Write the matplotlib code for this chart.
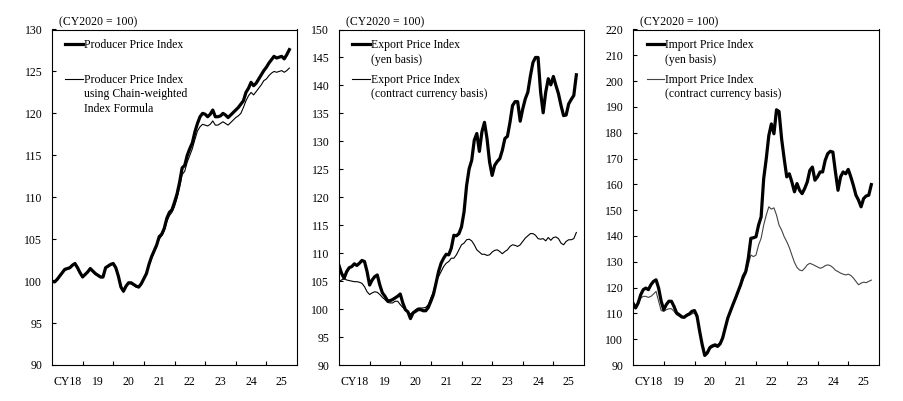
import matplotlib
matplotlib.use('Agg')
import matplotlib.pyplot as plt
import numpy as np

plt.rcParams['font.family'] = ['Liberation Serif', 'DejaVu Serif']
plt.rcParams['font.size'] = 8.5

# monthly, Jan 2018 .. Oct 2025 (CY2020 = 100)
ppi = [100.0, 99.9, 100.2, 100.6, 101.0, 101.4, 101.5, 101.6, 101.9, 102.1, 101.6, 101.0,
       100.5, 100.8, 101.1, 101.5, 101.2, 100.9, 100.7, 100.5, 100.5, 101.6, 101.8, 102.0,
       102.1, 101.6, 100.6, 99.3, 98.8, 99.4, 99.8, 99.8, 99.6, 99.4, 99.3, 99.7,
       100.3, 100.9, 102.0, 102.9, 103.6, 104.3, 105.3, 105.6, 106.3, 107.5, 108.2, 108.5,
       109.4, 110.4, 111.8, 113.5, 113.8, 115.0, 115.8, 116.5, 117.8, 118.8, 119.6, 120.0,
       119.9, 119.6, 119.9, 120.4, 119.6, 119.6, 119.7, 120.0, 119.8, 119.5, 119.8, 120.1,
       120.4, 120.7, 121.1, 121.5, 122.5, 123.0, 123.7, 123.3, 123.6, 124.1, 124.6, 125.1,
       125.5, 126.0, 126.4, 126.8, 126.6, 126.7, 126.8, 126.5, 127.0, 127.6]
ppi_chain = [99.9, 99.9, 100.1, 100.5, 100.9, 101.3, 101.4, 101.5, 101.8, 102.0, 101.5, 100.9,
             100.4, 100.7, 101.0, 101.4, 101.1, 100.8, 100.6, 100.4, 100.4, 101.5, 101.7, 101.9,
             102.0, 101.5, 100.5, 99.2, 98.7, 99.3, 99.7, 99.7, 99.5, 99.3, 99.2, 99.6,
             100.2, 100.8, 101.8, 102.7, 103.4, 104.1, 105.0, 105.4, 106.0, 107.1, 107.8, 108.2,
             108.9, 109.9, 111.2, 112.7, 113.1, 114.2, 115.0, 115.8, 116.9, 117.9, 118.4, 118.7,
             118.6, 118.5, 118.7, 119.1, 118.6, 118.6, 118.8, 119.0, 118.8, 118.6, 118.9, 119.2,
             119.5, 119.7, 120.0, 120.7, 121.5, 122.1, 122.5, 122.2, 122.6, 123.0, 123.4, 123.9,
             124.1, 124.5, 124.8, 125.0, 124.9, 125.0, 125.1, 124.9, 125.1, 125.4]

export_yen = [107.8, 106.4, 105.5, 106.7, 107.4, 107.6, 108.1, 107.8, 108.2, 108.7, 108.5, 106.7,
              104.3, 105.2, 105.8, 106.1, 104.3, 102.9, 102.3, 101.5, 101.5, 101.7, 102.0, 102.3,
              102.7, 101.1, 99.9, 99.5, 98.3, 99.3, 99.6, 99.9, 99.9, 99.7, 99.7, 100.3,
              101.4, 102.6, 104.6, 106.7, 108.2, 109.1, 109.8, 109.7, 110.9, 113.2, 113.1, 113.5,
              114.7, 117.4, 122.1, 125.1, 126.6, 130.2, 131.4, 128.2, 131.7, 133.4, 130.5, 126.3,
              123.9, 125.7, 126.4, 126.9, 128.4, 130.5, 130.9, 133.4, 136.4, 137.1, 137.1, 133.6,
              135.8, 137.6, 138.8, 141.7, 144.1, 145.0, 145.0, 138.8, 135.1, 138.8, 141.2, 140.1,
              141.6, 140.0, 138.5, 136.4, 134.6, 134.7, 136.7, 137.5, 138.2, 141.9]
export_contract = [104.9, 105.2, 105.5, 105.2, 105.1, 105.0, 104.9, 104.9, 104.8, 104.6, 104.0, 103.1,
                   102.6, 102.9, 103.1, 103.0, 102.6, 102.1, 101.7, 101.2, 101.1, 101.1, 101.4, 101.4,
                   100.8, 100.3, 99.9, 99.5, 99.1, 99.5, 99.9, 100.2, 100.2, 100.2, 100.3, 100.8,
                   102.0, 103.1, 104.9, 105.8, 106.7, 107.6, 108.2, 108.5, 109.1, 109.1, 109.7, 110.6,
                   111.5, 111.8, 112.4, 112.5, 112.2, 111.5, 110.6, 110.2, 109.8, 109.8, 109.6, 109.7,
                   110.2, 110.5, 110.6, 110.3, 109.9, 110.3, 110.6, 111.2, 111.5, 111.4, 111.2, 111.5,
                   112.1, 112.7, 113.1, 113.5, 113.5, 113.2, 112.6, 112.5, 112.6, 112.2, 112.8, 112.3,
                   112.8, 112.9, 112.6, 111.8, 111.5, 112.1, 112.4, 112.4, 112.6, 113.7]

import_yen = [114.0, 112.1, 114.0, 117.2, 119.2, 119.8, 119.2, 121.1, 122.4, 123.0, 119.8, 114.7,
              111.4, 113.4, 114.7, 114.7, 112.7, 110.2, 109.5, 108.7, 108.5, 109.3, 109.8, 110.8,
              111.1, 108.9, 103.1, 97.9, 93.7, 94.7, 96.7, 97.3, 97.7, 97.2, 98.2, 100.5,
              104.4, 108.2, 110.8, 113.4, 115.9, 118.5, 121.1, 124.3, 126.2, 131.4, 139.1, 139.3,
              139.7, 144.2, 147.4, 162.2, 169.9, 178.9, 183.4, 179.6, 188.9, 188.2, 177.6, 169.9,
              162.9, 164.1, 160.9, 157.1, 160.3, 157.7, 156.4, 158.4, 160.9, 165.4, 166.7, 161.6,
              162.9, 164.8, 164.8, 169.3, 171.9, 172.8, 172.5, 164.8, 157.7, 162.9, 164.8, 164.1,
              165.8, 162.9, 159.6, 155.8, 153.9, 151.3, 154.5, 155.5, 155.8, 159.9]
import_contract = [112.1, 112.3, 113.4, 115.9, 116.6, 116.6, 116.2, 116.6, 117.5, 118.5, 114.7, 111.1,
                   110.8, 111.4, 111.8, 111.8, 110.8, 109.5, 108.9, 108.2, 108.2, 108.9, 109.3, 109.8,
                   110.2, 108.2, 103.1, 98.2, 94.3, 95.4, 97.3, 97.9, 98.2, 97.9, 98.6, 101.2,
                   105.0, 108.5, 110.8, 113.1, 115.3, 117.9, 120.4, 123.0, 125.2, 128.8, 132.6, 132.0,
                   132.6, 136.5, 139.1, 144.2, 148.1, 151.3, 150.4, 150.9, 148.1, 144.2, 142.3, 139.7,
                   137.8, 135.5, 132.6, 129.8, 127.8, 126.8, 126.5, 127.5, 128.8, 129.4, 129.0, 128.5,
                   128.0, 127.5, 127.8, 128.5, 128.8, 128.5, 127.8, 126.7, 126.2, 125.6, 125.2, 124.9,
                   125.2, 124.7, 123.7, 122.4, 121.1, 121.7, 122.1, 121.9, 122.4, 122.9]

year_labels = ['CY18', '19', '20', '21', '22', '23', '24', '25']

panels = [
    dict(pos=(52, 297), ylim=(90, 130), ystep=5, thick=ppi, thin=ppi_chain, thin_color='black',
         lab1='Producer Price Index',
         lab2='Producer Price Index\nusing Chain-weighted\nIndex Formula'),
    dict(pos=(339, 584), ylim=(90, 150), ystep=5, thick=export_yen, thin=export_contract,
         thin_color='black',
         lab1='Export Price Index\n(yen basis)',
         lab2='Export Price Index\n(contract currency basis)'),
    dict(pos=(633, 879), ylim=(90, 220), ystep=10, thick=import_yen, thin=import_contract,
         thin_color='#444444',
         lab1='Import Price Index\n(yen basis)',
         lab2='Import Price Index\n(contract currency basis)'),
]

W, H = 904, 401
fig = plt.figure(figsize=(W / 100, H / 100), dpi=100)

top_px, bot_px = 29.5, 365

for p in panels:
    l, r = p['pos']
    ax = fig.add_axes([l / W, (H - bot_px) / H, (r - l) / W, (bot_px - top_px) / H])
    n = len(p['thick'])
    x = 2018 + np.arange(n) / 12.0
    ax.plot(x, p['thin'], color=p['thin_color'], lw=0.8)
    ax.plot(x, p['thick'], color='black', lw=2.3, solid_joinstyle='round')

    ax.set_xlim(2018, 2026)
    ax.set_ylim(*p['ylim'])
    ax.set_yticks(np.arange(p['ylim'][0], p['ylim'][1] + 1, p['ystep']))
    ax.set_xticks(np.arange(2019, 2026))
    ax.set_xticklabels([])
    ax.set_xticks(np.arange(2018, 2026) + 0.5, minor=True)
    ax.set_xticklabels(year_labels, minor=True)
    ax.tick_params(axis='x', which='major', direction='in', length=3, width=0.8)
    ax.tick_params(axis='x', which='minor', length=0, pad=8, labelsize=8.5)
    ax.tick_params(axis='y', direction='in', length=3, width=0.8, pad=7, labelsize=8.5)
    for s in ax.spines.values():
        s.set_linewidth(0.8)

    ax.text(0.03, 1.005, '(CY2020 = 100)', transform=ax.transAxes,
            ha='left', va='bottom', fontsize=8.5)

    # legend drawn by hand: handle sits on the first line of each label
    for y0, lw, col, lab in [(0.957, 2.3, 'black', p['lab1']),
                             (0.853, 0.8, p['thin_color'], p['lab2'])]:
        ax.plot([0.055, 0.128], [y0, y0], color=col, lw=lw, transform=ax.transAxes)
        ax.text(0.132, y0 + 0.015, lab, transform=ax.transAxes, ha='left', va='top',
                fontsize=8.5, linespacing=1.3)

fig.savefig('out.png', dpi=100)
